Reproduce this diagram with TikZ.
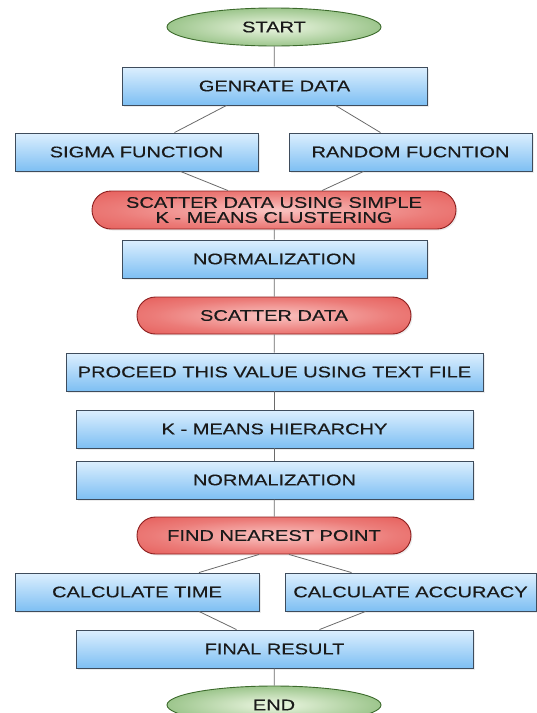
\documentclass[tikz,border=0pt]{standalone}
\usepackage{fontspec}
\newfontfamily\boxfont{Liberation Sans}[FakeStretch=1.3, FakeBold=0.4]
\usetikzlibrary{shapes.geometric,shapes.misc,shadows}
\definecolor{boxline}{HTML}{3E4C5C}
\definecolor{boxtop}{HTML}{DCEFFE}
\definecolor{boxbot}{HTML}{7EBFF3}
\definecolor{redline}{HTML}{8C1E1E}
\definecolor{redin}{HTML}{FAC4C2}
\definecolor{redout}{HTML}{E0403C}
\definecolor{greenline}{HTML}{3C6A2C}
\definecolor{greenin}{HTML}{EEF7E4}
\definecolor{greenout}{HTML}{4E9638}
\definecolor{linkgray}{HTML}{6A6A6A}
\definecolor{txt}{HTML}{1A1A1A}
\pgfdeclareradialshading{softred}{\pgfpoint{0bp}{0bp}}{color(0bp)=(redin); color(22bp)=(redin!45!redout); color(50bp)=(redout)}
\pgfdeclareradialshading{softgreen}{\pgfpoint{0bp}{0bp}}{color(0bp)=(greenin); color(22bp)=(greenin!55!greenout); color(50bp)=(greenout)}

\begin{document}
\begin{tikzpicture}[x=1pt, y=-1pt, line width=0.9pt,
    every node/.style = {font=\boxfont\fontsize{15.4}{15}\selectfont, text=txt, inner sep=0pt},
    blue/.style = {draw=boxline, rectangle, top color=boxtop, bottom color=boxbot, minimum height=38pt,
                   drop shadow={opacity=0.15, shadow xshift=1.5pt, shadow yshift=-1.5pt}},
    red/.style = {draw=redline, rounded rectangle, shading=softred, minimum height=37pt,
                  drop shadow={opacity=0.15, shadow xshift=1.5pt, shadow yshift=-1.5pt}},
    term/.style = {draw=greenline, ellipse, shading=softgreen, minimum width=214pt, minimum height=38pt},
    link/.style = {draw=linkgray, line width=0.8pt}]
    \useasboundingbox (0,0) rectangle (537,713);
		\node[term] (start) at (274,27) {START};
		\node[blue, minimum width=305pt] (gen) at (274.5,86) {GENRATE DATA};
		\node[blue, minimum width=243pt] (sigma) at (136.5,152) {SIGMA FUNCTION};
		\node[blue, minimum width=243pt] (random) at (410.5,152) {RANDOM FUCNTION};
		\node[red, minimum width=364pt, minimum height=38pt, align=center] (scat1) at (274,210) {SCATTER DATA USING SIMPLE\\ K - MEANS CLUSTERING};
		\node[blue, minimum width=305pt] (norm1) at (274.5,259) {NORMALIZATION};
		\node[red, minimum width=274pt] (scat2) at (274,315.5) {SCATTER DATA};
		\node[blue, minimum width=417pt] (proceed) at (274.5,372) {PROCEED THIS VALUE USING TEXT FILE};
		\node[blue, minimum width=397pt] (kmh) at (274.5,429) {K - MEANS HIERARCHY};
		\node[blue, minimum width=397pt] (norm2) at (274.5,480) {NORMALIZATION};
		\node[red, minimum width=274pt] (near) at (274,535.5) {FIND NEAREST POINT};
		\node[blue, minimum width=244pt] (time) at (137,592) {CALCULATE TIME};
		\node[blue, minimum width=251pt] (acc) at (410.5,592) {CALCULATE ACCURACY};
		\node[blue, minimum width=397pt] (final) at (274.5,649) {FINAL RESULT};
		\node[term] (end) at (274,705) {END};
		% connectors
		\draw[link] (start) -- (gen);
		\draw[link] ([xshift=-48pt]gen.south) -- ([xshift=38pt]sigma.north);
		\draw[link] ([xshift=61pt]gen.south) -- ([xshift=-30pt]random.north);
		\draw[link] ([xshift=44pt]sigma.south) -- ([xshift=-46pt]scat1.north);
		\draw[link] ([xshift=-47pt]random.south) -- ([xshift=48pt]scat1.north);
		\draw[link] (scat1) -- (norm1);
		\draw[link] (norm1) -- (scat2);
		\draw[link] (scat2) -- (proceed);
		\draw[link] (proceed) -- (kmh);
		\draw[link] (kmh) -- (norm2);
		\draw[link] (norm2) -- (near);
		\draw[link] ([xshift=-15pt]near.south) -- ([xshift=62pt]time.north);
		\draw[link] ([xshift=15pt]near.south) -- ([xshift=-59pt]acc.north);
		\draw[link] ([xshift=62pt]time.south) -- ([xshift=-38pt]final.north);
		\draw[link] ([xshift=-45pt]acc.south) -- ([xshift=45pt]final.north);
		\draw[link] (final) -- (end);
	\end{tikzpicture}
\end{document}
